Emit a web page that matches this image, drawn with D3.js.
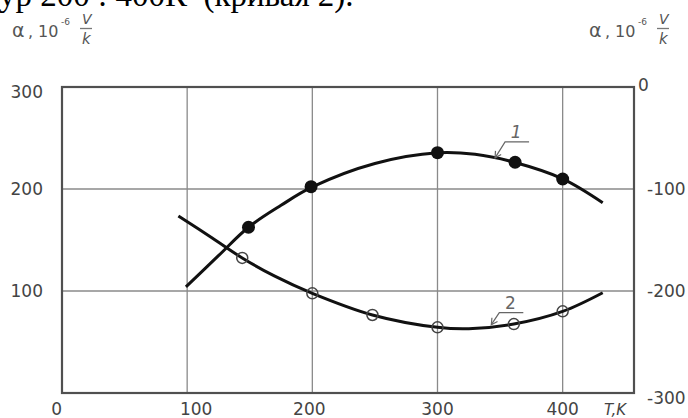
<!DOCTYPE html>
<html>
<head>
<meta charset="utf-8">
<script src="https://cdn.jsdelivr.net/npm/d3@7"></script>
<style>
  body { margin: 0; background: #fff; }
  svg { display: block; }
</style>
</head>
<body>
<div id="vis"></div>
<script>
// chart data
const xTicks = [0, 100, 200, 300, 400];
const leftTicks = [100, 200, 300];
const rightTicks = [0, -100, -200, -300];
const gridT = [100, 200, 300, 400];
const gridA = [100, 200];

// curve 1 (left axis, filled dots)
const curve1T = [99, 125, 149, 175, 200, 250, 300, 330, 362, 400, 432];
const curve1A = [104, 134.6, 162.5, 184, 202, 225, 235.5, 234, 226, 210, 186.6];
const dots1T = [149, 199, 300, 362, 400];
const dots1A = [162.5, 202.3, 235.6, 226.2, 209.8];

// curve 2 (right axis, open circles)
const curve2T = [93, 120, 144, 170, 200, 248, 300, 325, 361, 400, 432];
const curve2A = [-126.5, -148, -167.6, -185.5, -202.3, -223.5, -235.6, -237, -232.4, -220, -201.7];
const dots2T = [144, 200, 248, 300, 361, 400];
const dots2A = [-167.6, -202.3, -223.5, -235.6, -232.4, -219.9];

// curve labels: tip on the curve (T, value on own axis)
const labels = [
  { text: '1', t: 346, a: 230.5, axis: 'left', dx: 10, dy: -16 },
  { text: '2', t: 343, a: -233, axis: 'right', dx: 8, dy: -12 }
];

const W = 688, H = 418;

let svg = d3.select('#vis')
  .append('svg')
    .attr('width', W)
    .attr('height', H);

let x = d3.scaleLinear().domain([0, 457]).range([62, 634]);
let yL = d3.scaleLinear().domain([0, 300]).range([393, 87]);
let yR = d3.scaleLinear().domain([-300, 0]).range([393, 87]);

const sans = 'DejaVu Sans, sans-serif';
const textGrey = '#444';

// clipped line of page text above the chart
svg.append('text')
  .attr('x', -1)
  .attr('y', 6)
  .attr('xml:space', 'preserve')
  .style('white-space', 'pre')
  .style('font-family', 'Liberation Serif, Times New Roman, serif')
  .style('font-size', '33px')
  .attr('fill', '#000')
  .text('ур 200 : 400К  (кривая 2).');

// grid
svg.append('g')
  .selectAll('line')
  .data(gridT)
  .enter().append('line')
    .attr('x1', d => x(d)).attr('x2', d => x(d))
    .attr('y1', yL(0)).attr('y2', yL(300))
    .attr('stroke', '#8a8a8a')
    .attr('stroke-width', 1.3);

svg.append('g')
  .selectAll('line')
  .data(gridA)
  .enter().append('line')
    .attr('x1', x(0)).attr('x2', x(457))
    .attr('y1', d => yL(d)).attr('y2', d => yL(d))
    .attr('stroke', '#8a8a8a')
    .attr('stroke-width', 1.3);

// frame
svg.append('rect')
  .attr('x', x(0))
  .attr('y', yL(300))
  .attr('width', x(457) - x(0))
  .attr('height', yL(0) - yL(300))
  .attr('fill', 'none')
  .attr('stroke', '#505050')
  .attr('stroke-width', 2.2);

// x tick labels
svg.append('g')
  .selectAll('text')
  .data(xTicks)
  .enter().append('text')
    .attr('x', d => d === 0 ? x(d) : x(d) + (d === 100 ? 9 : d === 200 ? -3 : 0))
    .attr('y', 415)
    .attr('text-anchor', d => d === 0 ? 'end' : 'middle')
    .style('font-family', sans)
    .style('font-size', '17px')
    .attr('fill', textGrey)
    .text(d => d);

svg.append('text')
  .attr('x', 604)
  .attr('y', 415)
  .style('font-family', sans)
  .style('font-size', '15px')
  .style('font-style', 'italic')
  .attr('fill', textGrey)
  .text('T,K');

// left tick labels
svg.append('g')
  .selectAll('text')
  .data(leftTicks)
  .enter().append('text')
    .attr('x', 43)
    .attr('y', d => yL(d) + (d === 300 ? 5 : 0))
    .attr('dy', '0.35em')
    .attr('text-anchor', 'end')
    .style('font-family', sans)
    .style('font-size', '17px')
    .attr('fill', textGrey)
    .text(d => d);

// right tick labels
svg.append('g')
  .selectAll('text')
  .data(rightTicks)
  .enter().append('text')
    .attr('x', d => d === 0 ? 638 : 647)
    .attr('y', d => yR(d) + (d === 0 ? -2 : d === -300 ? 5 : 0))
    .attr('dy', '0.35em')
    .style('font-family', sans)
    .style('font-size', '17px')
    .attr('fill', textGrey)
    .text(d => d);

// axis titles: α, 10^-6 V/k
function unitTitle(x0) {
  let g = svg.append('g').attr('fill', '#555').style('font-family', sans);
  g.append('text').attr('x', x0).attr('y', 37).style('font-size', '19px').text('α');
  g.append('text').attr('x', x0 + 16).attr('y', 37).style('font-size', '16px').text(',');
  g.append('text').attr('x', x0 + 26).attr('y', 37).style('font-size', '16px').text('10');
  g.append('text').attr('x', x0 + 49).attr('y', 25).style('font-size', '9px').text('-6');
  g.append('text').attr('x', x0 + 70).attr('y', 24).style('font-size', '14px').style('font-style', 'italic').text('V');
  g.append('line')
    .attr('x1', x0 + 68).attr('x2', x0 + 80)
    .attr('y1', 28.5).attr('y2', 28.5)
    .attr('stroke', '#777').attr('stroke-width', 1.3);
  g.append('text').attr('x', x0 + 70).attr('y', 44).style('font-size', '15px').style('font-style', 'italic').text('k');
}
unitTitle(12);
unitTitle(589);

// curves
let line1 = d3.line()
  .x(d => x(d[0]))
  .y(d => yL(d[1]))
  .curve(d3.curveCatmullRom.alpha(0.5));

let line2 = d3.line()
  .x(d => x(d[0]))
  .y(d => yR(d[1]))
  .curve(d3.curveCatmullRom.alpha(0.5));

svg.append('path')
  .attr('d', line1(d3.zip(curve1T, curve1A)))
  .attr('fill', 'none')
  .attr('stroke', '#111')
  .attr('stroke-width', 3);

svg.append('path')
  .attr('d', line2(d3.zip(curve2T, curve2A)))
  .attr('fill', 'none')
  .attr('stroke', '#111')
  .attr('stroke-width', 3);

// markers
svg.append('g')
  .selectAll('circle')
  .data(d3.zip(dots1T, dots1A))
  .enter().append('circle')
    .attr('cx', d => x(d[0]))
    .attr('cy', d => yL(d[1]))
    .attr('r', 6.5)
    .attr('fill', '#111');

svg.append('g')
  .selectAll('circle')
  .data(d3.zip(dots2T, dots2A))
  .enter().append('circle')
    .attr('cx', d => x(d[0]))
    .attr('cy', d => yR(d[1]))
    .attr('r', 5.5)
    .attr('fill', 'none')
    .attr('stroke', '#444')
    .attr('stroke-width', 1.5);

// curve number labels with leaders
labels.forEach(function(l) {
  let tx = x(l.t);
  let ty = l.axis === 'left' ? yL(l.a) : yR(l.a);
  let ex = tx + l.dx, ey = ty + l.dy;
  let g = svg.append('g').attr('stroke', '#666').attr('stroke-width', 1.2).attr('fill', 'none');
  g.append('path').attr('d', `M${ex + 24},${ey}L${ex},${ey}L${tx},${ty}`);
  // open arrow head
  let ang = Math.atan2(ey - ty, ex - tx);
  let hl = 7;
  g.append('path')
    .attr('d', `M${tx + hl * Math.cos(ang - 0.5)},${ty + hl * Math.sin(ang - 0.5)}L${tx},${ty}L${tx + hl * Math.cos(ang + 0.5)},${ty + hl * Math.sin(ang + 0.5)}`);
  svg.append('text')
    .attr('x', ex + 11)
    .attr('y', ey - 4)
    .attr('text-anchor', 'middle')
    .style('font-family', sans)
    .style('font-size', '17px')
    .style('font-style', l.text === '1' ? 'italic' : 'normal')
    .attr('fill', '#666')
    .text(l.text);
});
</script>
</body>
</html>
